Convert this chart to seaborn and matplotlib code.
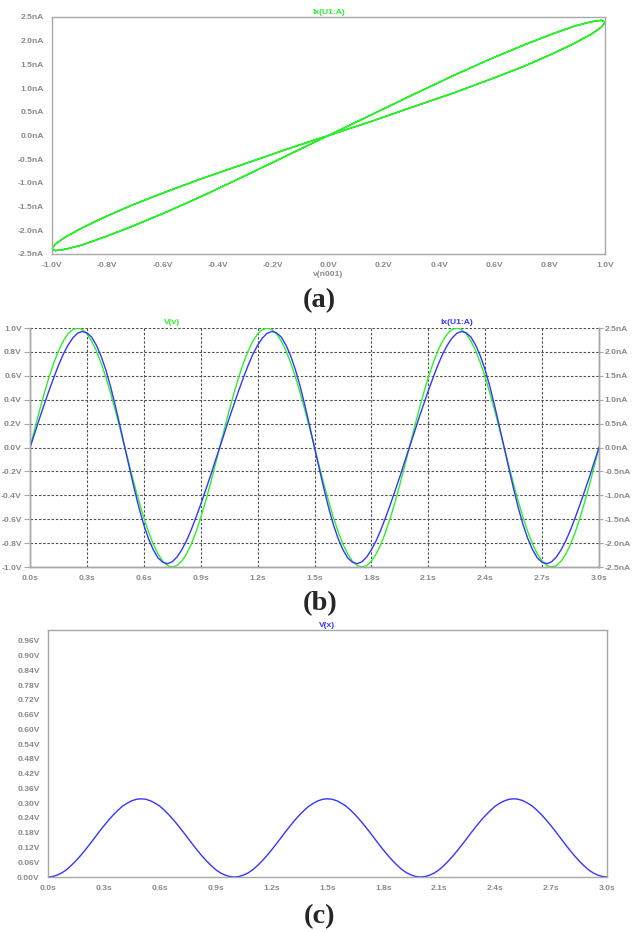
import numpy as np
import pandas as pd
import matplotlib
matplotlib.use('Agg')
import matplotlib.pyplot as plt
import seaborn as sns

# ---- data (sample step 0.025 s) ----
t_s = np.round(np.arange(121) * 0.025, 3)

# V(v): input voltage [V]
v_v = [
    0.000, 0.156, 0.309, 0.454, 0.588, 0.707, 0.809, 0.891, 0.951, 0.988,
    1.000, 0.988, 0.951, 0.891, 0.809, 0.707, 0.588, 0.454, 0.309, 0.156,
    0.000, -0.156, -0.309, -0.454, -0.588, -0.707, -0.809, -0.891, -0.951, -0.988,
    -1.000, -0.988, -0.951, -0.891, -0.809, -0.707, -0.588, -0.454, -0.309, -0.156,
    0.000, 0.156, 0.309, 0.454, 0.588, 0.707, 0.809, 0.891, 0.951, 0.988,
    1.000, 0.988, 0.951, 0.891, 0.809, 0.707, 0.588, 0.454, 0.309, 0.156,
    0.000, -0.156, -0.309, -0.454, -0.588, -0.707, -0.809, -0.891, -0.951, -0.988,
    -1.000, -0.988, -0.951, -0.891, -0.809, -0.707, -0.588, -0.454, -0.309, -0.156,
    0.000, 0.156, 0.309, 0.454, 0.588, 0.707, 0.809, 0.891, 0.951, 0.988,
    1.000, 0.988, 0.951, 0.891, 0.809, 0.707, 0.588, 0.454, 0.309, 0.156,
    0.000, -0.156, -0.309, -0.454, -0.588, -0.707, -0.809, -0.891, -0.951, -0.988,
    -1.000, -0.988, -0.951, -0.891, -0.809, -0.707, -0.588, -0.454, -0.309, -0.156,
    0.000,
]

# Ix(U1:A): device current [nA]
ix_na = [
    0.00, 0.30, 0.61, 0.90, 1.19, 1.46, 1.72, 1.95, 2.14, 2.29,
    2.39, 2.43, 2.40, 2.31, 2.14, 1.91, 1.62, 1.27, 0.87, 0.44,
    0.00, -0.44, -0.87, -1.27, -1.62, -1.91, -2.14, -2.31, -2.40, -2.43,
    -2.39, -2.29, -2.14, -1.95, -1.72, -1.46, -1.19, -0.90, -0.61, -0.30,
    0.00, 0.30, 0.61, 0.90, 1.19, 1.46, 1.72, 1.95, 2.14, 2.29,
    2.39, 2.43, 2.40, 2.31, 2.14, 1.91, 1.62, 1.27, 0.87, 0.44,
    0.00, -0.44, -0.87, -1.27, -1.62, -1.91, -2.14, -2.31, -2.40, -2.43,
    -2.39, -2.29, -2.14, -1.95, -1.72, -1.46, -1.19, -0.90, -0.61, -0.30,
    0.00, 0.30, 0.61, 0.90, 1.19, 1.46, 1.72, 1.95, 2.14, 2.29,
    2.39, 2.43, 2.40, 2.31, 2.14, 1.91, 1.62, 1.27, 0.87, 0.44,
    0.00, -0.44, -0.87, -1.27, -1.62, -1.91, -2.14, -2.31, -2.40, -2.43,
    -2.39, -2.29, -2.14, -1.95, -1.72, -1.46, -1.19, -0.90, -0.61, -0.30,
    0.00,
]

# V(x): state variable [V]
v_x = [
    0.000, 0.002, 0.008, 0.017, 0.030, 0.047, 0.066, 0.087, 0.110, 0.134,
    0.159, 0.184, 0.208, 0.231, 0.252, 0.271, 0.288, 0.300, 0.310, 0.316,
    0.318, 0.316, 0.310, 0.300, 0.288, 0.271, 0.252, 0.231, 0.208, 0.184,
    0.159, 0.134, 0.110, 0.087, 0.066, 0.047, 0.030, 0.017, 0.008, 0.002,
    0.000, 0.002, 0.008, 0.017, 0.030, 0.047, 0.066, 0.087, 0.110, 0.134,
    0.159, 0.184, 0.208, 0.231, 0.252, 0.271, 0.288, 0.300, 0.310, 0.316,
    0.318, 0.316, 0.310, 0.300, 0.288, 0.271, 0.252, 0.231, 0.208, 0.184,
    0.159, 0.134, 0.110, 0.087, 0.066, 0.047, 0.030, 0.017, 0.008, 0.002,
    0.000, 0.002, 0.008, 0.017, 0.030, 0.047, 0.066, 0.087, 0.110, 0.134,
    0.159, 0.184, 0.208, 0.231, 0.252, 0.271, 0.288, 0.300, 0.310, 0.316,
    0.318, 0.316, 0.310, 0.300, 0.288, 0.271, 0.252, 0.231, 0.208, 0.184,
    0.159, 0.134, 0.110, 0.087, 0.066, 0.047, 0.030, 0.017, 0.008, 0.002,
    0.000,
]

# tick labels
a_xticks = [-1.0, -0.8, -0.6, -0.4, -0.2, 0.0, 0.2, 0.4, 0.6, 0.8, 1.0]
a_yticks = [-2.5, -2.0, -1.5, -1.0, -0.5, 0.0, 0.5, 1.0, 1.5, 2.0, 2.5]
b_yticks = [-1.0, -0.8, -0.6, -0.4, -0.2, 0.0, 0.2, 0.4, 0.6, 0.8, 1.0]
t_ticks = [0.0, 0.3, 0.6, 0.9, 1.2, 1.5, 1.8, 2.1, 2.4, 2.7, 3.0]
c_yticks = [0.00, 0.06, 0.12, 0.18, 0.24, 0.30, 0.36, 0.42, 0.48, 0.54,
            0.60, 0.66, 0.72, 0.78, 0.84, 0.90, 0.96]

GREEN = '#2cf02c'
BLUE = '#3535ff'
GRAY = '#8a8a8a'
SPINE = '#a8a8a8'
TICK_FS = 6.1

sns.set_style('white')
plt.rcParams['font.family'] = ['Liberation Sans', 'DejaVu Sans']

df = pd.DataFrame({'t': t_s, 'v': v_v, 'ix': ix_na, 'x': v_x})


def style_axis(ax, sides=('left', 'bottom', 'top', 'right'), length=4, pad=2):
    for s in ax.spines:
        ax.spines[s].set_visible(s in sides)
        ax.spines[s].set_color(SPINE)
        ax.spines[s].set_linewidth(1.0)
    ax.tick_params(axis='both', direction='out', length=length, width=0.8,
                   color=SPINE, labelcolor=GRAY, labelsize=TICK_FS, pad=pad)
    for lab in ax.get_xticklabels() + ax.get_yticklabels():
        lab.set_fontweight('bold')


def fmt(vals, f, unit):
    out = []
    for v in vals:
        s = f.format(v)
        if s.startswith('-') and float(s) == 0:
            s = s[1:]
        out.append(s + unit)
    return out


fig = plt.figure(figsize=(6.32, 9.32), dpi=100)

# ---------------- (a) I-V hysteresis loop ----------------
ax_a = fig.add_axes([0.0823, 0.7275, 0.875, 0.2543])
sns.lineplot(data=df, x='v', y='ix', sort=False, estimator=None,
             color=GREEN, linewidth=1.0, ax=ax_a)
ax_a.set_xlim(-1.0, 1.0)
ax_a.set_ylim(-2.5, 2.5)
ax_a.set_xticks(a_xticks)
ax_a.set_xticklabels(fmt(a_xticks, '{:.1f}', 'V'))
ax_a.set_yticks(a_yticks)
ax_a.set_yticklabels(fmt(a_yticks, '{:.1f}', 'nA'))
ax_a.set_xlabel('v(n001)', color=GRAY, fontsize=TICK_FS, fontweight='bold', labelpad=1)
ax_a.set_ylabel('')
ax_a.set_title('Ix(U1:A)', color=GREEN, fontsize=TICK_FS, fontweight='bold', pad=2)
style_axis(ax_a)

# ---------------- (b) time waveforms ----------------
ax_b = fig.add_axes([0.0475, 0.3916, 0.9003, 0.2564])
sns.lineplot(data=df, x='t', y='v', color=GREEN, linewidth=1.0, ax=ax_b)
ax_b.set_xlim(0, 3.0)
ax_b.set_ylim(-1.0, 1.0)
ax_b.set_xticks(t_ticks)
ax_b.set_xticklabels(fmt(t_ticks, '{:.1f}', 's'))
ax_b.set_yticks(b_yticks)
ax_b.set_yticklabels(fmt(b_yticks, '{:.1f}', 'V'))
ax_b.set_xlabel('')
ax_b.set_ylabel('')
ax_b.grid(True, color='#505050', linestyle=(0, (2.2, 1.6)), linewidth=0.8)
ax_b.set_axisbelow(True)

ax_b2 = ax_b.twinx()
sns.lineplot(data=df, x='t', y='ix', color=BLUE, linewidth=1.0, ax=ax_b2)
ax_b2.set_ylim(-2.5, 2.5)
ax_b2.set_yticks(a_yticks)
ax_b2.set_yticklabels(fmt(a_yticks, '{:.1f}', 'nA'))
ax_b2.set_ylabel('')
ax_b2.grid(False)
style_axis(ax_b, sides=('left', 'bottom', 'right'))
style_axis(ax_b2, sides=('left', 'bottom', 'right'), length=3, pad=1)
ax_b.text(0.25, 1.01, 'V(v)', transform=ax_b.transAxes, ha='center', va='bottom',
          color=GREEN, fontsize=TICK_FS, fontweight='bold')
ax_b.text(0.75, 1.01, 'Ix(U1:A)', transform=ax_b.transAxes, ha='center', va='bottom',
          color=BLUE, fontsize=TICK_FS, fontweight='bold')

# ---------------- (c) state variable ----------------
ax_c = fig.add_axes([0.0759, 0.059, 0.8845, 0.265])
sns.lineplot(data=df, x='t', y='x', color=BLUE, linewidth=1.0, ax=ax_c)
ax_c.set_xlim(0, 3.0)
ax_c.set_ylim(0, 1.004)
ax_c.set_xticks(t_ticks)
ax_c.set_xticklabels(fmt(t_ticks, '{:.1f}', 's'))
ax_c.set_yticks(c_yticks)
ax_c.set_yticklabels(fmt(c_yticks, '{:.2f}', 'V'))
ax_c.set_xlabel('')
ax_c.set_ylabel('')
ax_c.set_title('V(x)', color=BLUE, fontsize=TICK_FS, fontweight='bold', pad=2)
style_axis(ax_c)

# panel letters
for y, lab in [(0.677, '(a)'), (0.352, '(b)'), (0.016, '(c)')]:
    fig.text(0.506, y, lab, ha='center', va='center', fontsize=20.5,
             fontweight='bold', family=['Liberation Serif', 'DejaVu Serif'])

fig.savefig('out.png', dpi=100)
